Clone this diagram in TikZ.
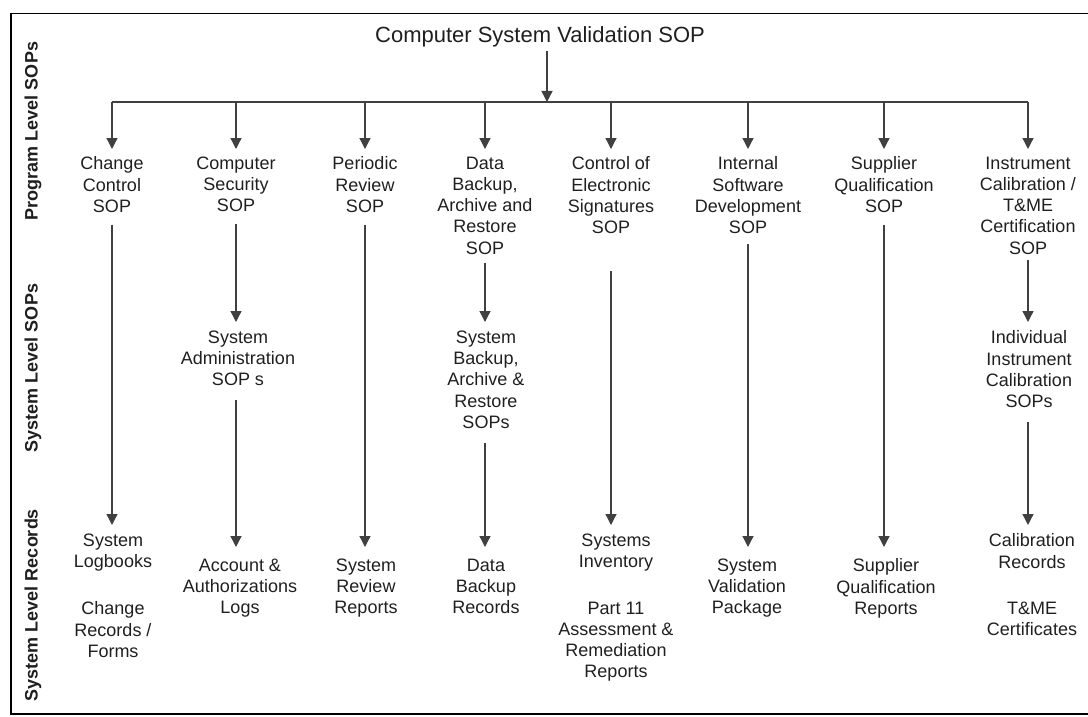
\documentclass[tikz,border=0pt]{standalone}
\usepackage{fontspec}
\setmainfont{Liberation Sans}
\usetikzlibrary{arrows.meta}

\begin{document}
\begin{tikzpicture}[x=1pt,y=-1pt,
  txt/.style={font=\fontsize{18}{21.3}\selectfont, align=center, inner sep=0pt, anchor=north, text=black!88},
  side/.style={font=\fontsize{18}{22}\selectfont\bfseries, rotate=90, inner sep=0pt, text=black!88},
  link/.style={draw=black!75, line width=1.3pt},
  arr/.style={link, -{Triangle[width=11pt,length=11pt]}}
]
\useasboundingbox (0,0) rectangle (1088,717);

% outer frame (open on the right)
\draw[line width=1.5pt] (1090,13.5) -- (11,13.5) -- (11,714) -- (1090,714);

% level labels
\node[side] (lvA) at (33,131) {Program Level SOPs};
\node[side] (lvB) at (33,368) {System Level SOPs};
\node[side] (lvC) at (33,605) {System Level Records};

% title and distribution bar
\node[font=\fontsize{22}{26}\selectfont, inner sep=0pt, anchor=base, text=black!88] (title) at (540,43) {Computer System Validation SOP};
\coordinate (top) at (547,102);
\foreach \n/\x in {1/112,2/236,3/365,4/485,5/611,6/748,7/884,8/1028}
  \coordinate (j\n) at (\x,102);

% program level SOPs
\node[txt] (n1) at (112,156.5) {Change\\Control\\SOP};
\node[txt] (n2) at (236,156.5) {Computer\\Security\\SOP};
\node[txt] (n3) at (365,156.5) {Periodic\\Review\\SOP};
\node[txt] (n4) at (485,156.5) {Data\\Backup,\\Archive and\\Restore\\SOP};
\node[txt] (n5) at (611,156.5) {Control of\\Electronic\\Signatures\\SOP};
\node[txt] (n6) at (748,156.5) {Internal\\Software\\Development\\SOP};
\node[txt] (n7) at (884,156.5) {Supplier\\Qualification\\SOP};
\node[txt] (n8) at (1028,156.5) {Instrument\\Calibration /\\T\&ME\\Certification\\SOP};

% system level SOPs
\node[txt] (s2) at (238,330.5) {System\\Administration\\SOP s};
\node[txt] (s4) at (486,330.5) {System\\Backup,\\Archive \&\\Restore\\SOPs};
\node[txt] (s8) at (1029,330.5) {Individual\\Instrument\\Calibration\\SOPs};

% system level records
\node[txt] (r1) at (113,533.5) {System\\Logbooks};
\node[txt] (q1) at (113,601.5) {Change\\Records /\\Forms};
\node[txt] (r2) at (240,558.5) {Account \&\\Authorizations\\Logs};
\node[txt] (r3) at (366,558.5) {System\\Review\\Reports};
\node[txt] (r4) at (486,558.5) {Data\\Backup\\Records};
\node[txt] (r5) at (616,533.5) {Systems\\Inventory};
\node[txt] (q5) at (616,601.5) {Part 11\\Assessment \&\\Remediation\\Reports};
\node[txt] (r6) at (747,558.5) {System\\Validation\\Package};
\node[txt] (r7) at (886,558.5) {Supplier\\Qualification\\Reports};
\node[txt] (r8) at (1032,533.5) {Calibration\\Records};
\node[txt] (q8) at (1032,601.5) {T\&ME\\Certificates};

% connectors
\draw[arr, shorten <=3pt] (title.south -| top) -- (top);
\draw[link] (j1) -- (j8);
\foreach \n in {1,...,8}
  \draw[arr, shorten >=7.5pt] (j\n) -- (n\n.north -| j\n);

\draw[arr, shorten <=12pt, shorten >=8.5pt] (n1.south) -- (r1.north -| n1.south);
\draw[arr, shorten <=12pt, shorten >=8.5pt] (n2.south) -- (s2.north -| n2.south);
\draw[arr, shorten <=14pt, shorten >=11.5pt] (s2.south -| n2.south) -- (r2.north -| n2.south);
\draw[arr, shorten <=12pt, shorten >=11.5pt] (n3.south) -- (r3.north -| n3.south);
\draw[arr, shorten <=8pt, shorten >=8.5pt] (n4.south) -- (s4.north -| n4.south);
\draw[arr, shorten <=14pt, shorten >=11.5pt] (s4.south -| n4.south) -- (r4.north -| n4.south);
\draw[arr, shorten <=37pt, shorten >=8.5pt] (n5.south) -- (r5.north -| n5.south);
\draw[arr, shorten <=10pt, shorten >=11.5pt] (n6.south) -- (r6.north -| n6.south);
\draw[arr, shorten <=12pt, shorten >=11.5pt] (n7.south) -- (r7.north -| n7.south);
\draw[arr, shorten <=5pt, shorten >=8.5pt] (n8.south) -- (s8.north -| n8.south);
\draw[arr, shorten <=14pt, shorten >=8.5pt] (s8.south -| n8.south) -- (r8.north -| n8.south);
\end{tikzpicture}
\end{document}
